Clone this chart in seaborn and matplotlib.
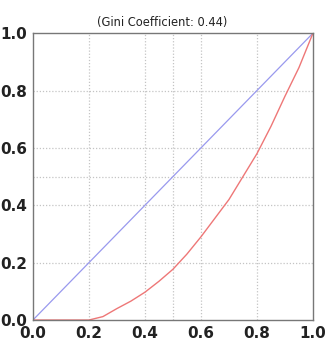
import matplotlib
matplotlib.use("Agg")
import matplotlib.pyplot as plt
import seaborn as sns

sns.set_style("white")
plt.rcParams['font.family'] = ['DejaVu Sans']

# Lorenz curve
pop_share = [0.0, 0.1, 0.2, 0.25, 0.3, 0.35, 0.4, 0.45, 0.5, 0.55, 0.6, 0.65, 0.7, 0.75, 0.8, 0.85, 0.9, 0.95, 1.0]
income_share = [0.0, 0.0, 0.0, 0.012, 0.04, 0.066, 0.097, 0.135, 0.177, 0.23, 0.29, 0.355, 0.42, 0.5, 0.58, 0.675, 0.78, 0.88, 1.0]
equality = [0.0, 1.0]
gini = 0.44
grid_ticks = [0.2, 0.4, 0.5, 0.6, 0.8]
label_ticks = [0.0, 0.2, 0.4, 0.6, 0.8, 1.0]

fig = plt.figure(figsize=(3.26, 3.49), dpi=100)
ax = fig.add_axes([0.101, 0.083, 0.859, 0.822])

# dotted grid lines at 0.2, 0.4, 0.5, 0.6, 0.8
for g in grid_ticks:
    ax.axvline(g, color='#c4c4c4', linestyle=(0, (1, 1.5)), linewidth=0.9, zorder=0)
    ax.axhline(g, color='#c4c4c4', linestyle=(0, (1, 1.5)), linewidth=0.9, zorder=0)

sns.lineplot(x=equality, y=equality, color='#9999ee', linewidth=0.9, ax=ax)
sns.lineplot(x=pop_share, y=income_share, color='#ee7777', linewidth=1.0, ax=ax)

ax.set_xlim(0, 1)
ax.set_ylim(0, 1)
ax.set_xticks(label_ticks)
ax.set_yticks(label_ticks)
ax.set_xticklabels([f"{t:.1f}" for t in label_ticks], fontsize=11, fontweight='bold', color='#222222')
ax.set_yticklabels([f"{t:.1f}" for t in label_ticks], fontsize=11, fontweight='bold', color='#222222')
ax.tick_params(length=3, width=0.8, color='#555555', pad=1)
for s in ax.spines.values():
    s.set_color('#777777')
    s.set_linewidth(1.0)

ax.set_title(f"(Gini Coefficient: {gini:.2f})", fontsize=8.3, color='#222222', pad=5, x=0.46)

fig.savefig("out.png", dpi=100)
